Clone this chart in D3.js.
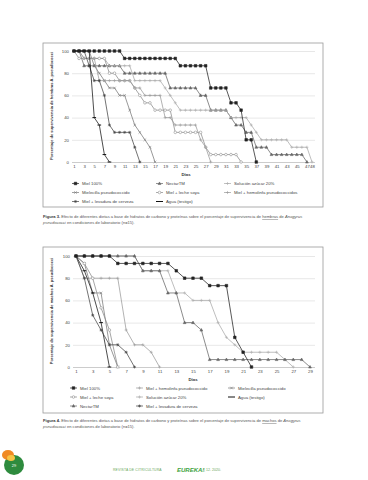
<!DOCTYPE html>
<html><head><meta charset="utf-8">
<script src="https://cdn.jsdelivr.net/npm/d3@7"></script>
<style>
html,body{margin:0;padding:0;background:#fff;}
svg{display:block;font-family:"Liberation Sans",Arial,sans-serif;}
</style></head><body>
<svg id="page" width="368" height="480"></svg>
<script>
// ---------- DATA ----------
const days1 = d3.range(1, 49);
const xTicks1 = [1,3,5,7,9,11,13,15,17,19,21,23,25,27,29,31,33,35,37,39,41,43,45,47,48];
const days2 = d3.range(1, 30);
const xTicks2 = [1,3,5,7,9,11,13,15,17,19,21,23,25,27,29];
const yTicks = [0,20,40,60,80,100];

// Figure 3 (hembras) - legend order (3 columns, row-major)
const names1 = ["Miel 100%","NectarTM","Solución azúcar 20%","Mielecilla pseudococcido","Miel + leche soya","Miel + hemolinfa pseudococcidos","Miel + levadura de cerveza","Agua (testigo)"];
const h_miel100 = [100,100,100,100,100,100,100,100,100,100,93.3,93.3,93.3,93.3,93.3,93.3,93.3,93.3,93.3,93.3,93.3,86.7,86.7,86.7,86.7,86.7,86.7,66.7,66.7,66.7,66.7,53.3,53.3,46.7,20,20,0];
const h_nectar = [100,100,86.7,86.7,86.7,86.7,86.7,86.7,86.7,86.7,80,80,80,80,80,80,80,80,80,66.7,66.7,66.7,66.7,66.7,66.7,60,60,46.7,46.7,46.7,46.7,40,33.3,33.3,26.7,26.7,13.3,13.3,13.3,6.7,6.7,6.7,6.7,6.7,6.7,6.7,0];
const h_azucar = [100,100,93.3,93.3,93.3,93.3,93.3,86.7,86.7,86.7,86.7,86.7,73.3,73.3,73.3,73.3,73.3,73.3,66.7,60,53.3,46.7,46.7,46.7,46.7,46.7,46.7,46.7,46.7,46.7,46.7,40,40,40,40,33.3,26.7,20,20,20,20,20,20,13.3,13.3,13.3,13.3,0];
const h_mielecilla = [100,100,100,100,86.7,80,73.3,66.7,66.7,60,60,46.7,33.3,26.7,20,13.3,0];
const h_soya = [100,93.3,93.3,93.3,93.3,93.3,93.3,80,80,73.3,73.3,73.3,66.7,60,53.3,53.3,46.7,46.7,46.7,46.7,26.7,26.7,26.7,26.7,26.7,26.7,13.3,6.7,6.7,6.7,6.7,6.7,6.7,0];
const h_hemolinfa = [100,100,93.3,93.3,93.3,73.3,73.3,73.3,73.3,73.3,73.3,73.3,66.7,66.7,60,60,60,60,40,40,33.3,33.3,33.3,33.3,33.3,20,13.3,0];
const h_levadura = [100,100,100,86.7,73.3,73.3,60,33.3,26.7,26.7,26.7,26.7,13.3,0];
const h_agua = [100,100,100,100,40,33.3,6.7,0];
const values1 = [h_miel100,h_nectar,h_azucar,h_mielecilla,h_soya,h_hemolinfa,h_levadura,h_agua];

// Figure 4 (machos) - legend order (3 columns, row-major)
const names2 = ["Miel 100%","Miel + hemolinfa pseudococcido","Mielecilla pseudococcido","Miel + leche soya","Solución azúcar 20%","Agua (testigo)","NectarTM","Miel + levadura de cerveza"];
const m_miel100 = [100,100,100,100,100,93.3,93.3,93.3,93.3,93.3,93.3,93.3,86.7,80,80,80,73.3,73.3,73.3,26.7,13.3,0];
const m_hemolinfa = [100,80,80,80,80,80,33.3,20,20,13.3,0];
const m_mielecilla = [100,93.3,66.7,66.7,20,0];
const m_soya = [100,93.3,80,53.3,33.3,0];
const m_azucar = [100,100,100,100,100,100,100,100,86.7,86.7,86.7,86.7,66.7,66.7,60,60,60,40,26.7,20,13.3,13.3,13.3,13.3,13.3,6.7,0];
const m_agua = [100,86.7,66.7,40,0];
const m_nectar = [100,100,100,100,100,100,100,100,86.7,86.7,86.7,66.7,66.7,40,40,33.3,6.7,6.7,6.7,6.7,6.7,6.7,6.7,6.7,6.7,6.7,6.7,6.7,0];
const m_levadura = [100,80,46.7,33.3,20,20,13.3,0];
const values2 = [m_miel100,m_hemolinfa,m_mielecilla,m_soya,m_azucar,m_agua,m_nectar,m_levadura];

// ---------- STYLES ----------
const styleOf = {
  "Miel 100%": {sym:"square", color:"#222", fill:"#222", front:true},
  "NectarTM": {sym:"triangle", color:"#666", fill:"#666"},
  "Solución azúcar 20%": {sym:"plus", color:"#a8a8a8"},
  "Mielecilla pseudococcido": {sym:"times", color:"#777"},
  "Miel + leche soya": {sym:"circle", color:"#888", fill:"#fff"},
  "Miel + hemolinfa pseudococcidos": {sym:"plus", color:"#999"},
  "Miel + hemolinfa pseudococcido": {sym:"plus", color:"#999"},
  "Miel + levadura de cerveza": {sym:"asterisk", color:"#444"},
  "Agua (testigo)": {sym:"dash", color:"#111"}
};

function markerPath(sym, s){
  switch(sym){
    case "square": return `M${-s},${-s}h${2*s}v${2*s}h${-2*s}Z`;
    case "triangle": return `M0,${-s*1.2}L${s*1.1},${s*0.8}L${-s*1.1},${s*0.8}Z`;
    case "circle": return `M${s},0A${s},${s} 0 1,1 ${-s},0A${s},${s} 0 1,1 ${s},0Z`;
    case "plus": return `M${-s*1.2},0H${s*1.2}M0,${-s*1.2}V${s*1.2}`;
    case "times": return `M${-s},${-s}L${s},${s}M${s},${-s}L${-s},${s}`;
    case "asterisk": return `M${-s*1.2},0H${s*1.2}M0,${-s*1.2}V${s*1.2}M${-s*0.85},${-s*0.85}L${s*0.85},${s*0.85}M${s*0.85},${-s*0.85}L${-s*0.85},${s*0.85}`;
    case "dash": return `M${-s*1.4},0H${s*1.4}`;
  }
}

const svg = d3.select("#page");
const FS = 4.3;
const MS = 1.3;

function drawChart(cfg){
  const g = svg.append("g");
  g.append("rect").attr("x",cfg.box[0]).attr("y",cfg.box[1]).attr("width",cfg.box[2]).attr("height",cfg.box[3])
    .attr("fill","#fff").attr("stroke","#9a9a9a").attr("stroke-width",0.8);
  const x = d3.scaleLinear().domain([cfg.days[0], cfg.days[cfg.days.length-1]]).range(cfg.xr);
  const y = d3.scaleLinear().domain([0,100]).range(cfg.yr);
  // grid + y labels
  const ya = d3.axisLeft(y).tickValues(yTicks).tickSize(-(cfg.gridR-cfg.gridL)).tickPadding(3);
  const yg = g.append("g").attr("transform",`translate(${cfg.gridL},0)`).call(ya);
  yg.select(".domain").remove();
  yg.selectAll("line").attr("stroke",d=>d===0?"#aaa":"#d6d6d6").attr("stroke-width",0.6);
  yg.selectAll("text").attr("font-size",FS).attr("fill","#444").attr("font-family","Liberation Sans, Arial, sans-serif");
  // x labels
  const xa = d3.axisBottom(x).tickValues(cfg.xTicks).tickSize(0).tickPadding(3).tickFormat(d3.format("d"));
  const xg = g.append("g").attr("transform",`translate(0,${cfg.yr[0]})`).call(xa);
  xg.select(".domain").remove();
  xg.selectAll("text").attr("font-size",FS).attr("fill","#444").attr("font-family","Liberation Sans, Arial, sans-serif");
  // axis titles
  g.append("text").attr("x",cfg.diasX).attr("y",cfg.diasY).attr("text-anchor","middle")
    .attr("font-size",FS).attr("font-weight","bold").attr("fill","#333").text("Días");
  g.append("text").attr("transform",`translate(${cfg.ytX},${cfg.ytY}) rotate(-90)`).attr("text-anchor","middle")
    .attr("font-size",4).attr("font-weight","bold").attr("fill","#333").text(cfg.yTitle);
  // series
  const order = cfg.names.map((n,i)=>i).sort((a,b)=>{
    const sa=styleOf[cfg.names[a]], sb=styleOf[cfg.names[b]];
    return (sa.front?1:0)-(sb.front?1:0);
  });
  const line = d3.line().x(d=>x(d[0])).y(d=>y(d[1]));
  order.forEach(i=>{
    const st = styleOf[cfg.names[i]];
    const pts = cfg.values[i].map((v,j)=>[cfg.days[j], v]);
    g.append("path").attr("d",line(pts)).attr("fill","none").attr("stroke",st.color).attr("stroke-width",0.75);
    g.selectAll(null).data(pts).enter().append("path")
      .attr("transform",d=>`translate(${x(d[0])},${y(d[1])})`)
      .attr("d",markerPath(st.sym,MS))
      .attr("fill",st.fill||"none").attr("stroke",st.color)
      .attr("stroke-width",st.sym==="dash"?1:0.55);
  });
  // legend
  cfg.names.forEach((n,i)=>{
    const st = styleOf[n];
    const col = i%3, row = Math.floor(i/3);
    const lx = cfg.legCols[col], ly = cfg.legRows[row];
    g.append("line").attr("x1",lx).attr("x2",lx+7).attr("y1",ly).attr("y2",ly)
      .attr("stroke",st.color).attr("stroke-width",st.sym==="dash"?1:0.7);
    if(st.sym!=="dash"){
      g.append("path").attr("transform",`translate(${lx+3.5},${ly})`).attr("d",markerPath(st.sym,MS))
        .attr("fill",st.fill||"none").attr("stroke",st.color).attr("stroke-width",0.55);
    }
    g.append("text").attr("x",lx+10).attr("y",ly+1.5).attr("font-size",FS).attr("fill","#444").text(n);
  });
  // caption
  const c1 = g.append("text").attr("x",43).attr("y",cfg.capY).attr("font-size",4.1).attr("fill","#555");
  c1.append("tspan").attr("font-weight","bold").attr("fill","#333").text(cfg.capLabel+" ");
  c1.append("tspan").text("Efecto de diferentes dietas a base de hidratos de carbono y proteínas sobre el porcentaje de supervivencia de ");
  c1.append("tspan").attr("text-decoration","underline").text(cfg.capSex);
  c1.append("tspan").text(" de ");
  c1.append("tspan").attr("font-style","italic").text("Anagyrus");
  const c2 = g.append("text").attr("x",43).attr("y",cfg.capY+6).attr("font-size",4.1).attr("fill","#555");
  c2.append("tspan").attr("font-style","italic").text("pseudococci");
  c2.append("tspan").text(" en condiciones de laboratorio (n=15).");
}

drawChart({
  box:[43,43,280,164], days:days1, xTicks:xTicks1, xr:[74,312], yr:[162,51], gridL:72, gridR:315,
  diasX:186, diasY:176, ytX:53, ytY:106, yTitle:"Porcentaje de supervivencia de hembras A. pseudococci",
  names:names1, values:values1, legCols:[72,156,224], legRows:[183.5,192.5,201.5],
  capY:218, capLabel:"Figura 3.", capSex:"hembras"
});
drawChart({
  box:[43,247,280,166], days:days2, xTicks:xTicks2, xr:[76,310], yr:[367,256], gridL:73, gridR:315,
  diasX:193, diasY:381, ytX:53, ytY:311, yTitle:"Porcentaje de supervivencia de machos A. pseudococci",
  names:names2, values:values2, legCols:[70,136,228], legRows:[388,397,406],
  capY:422, capLabel:"Figura 4.", capSex:"machos"
});

// ---------- FOOTER ----------
const f = svg.append("g");
f.append("circle").attr("cx",14).attr("cy",465).attr("r",10).attr("fill","#2e8b3e");
f.append("ellipse").attr("cx",8).attr("cy",455).attr("rx",6).attr("ry",5).attr("fill","#f08a24");
f.append("ellipse").attr("cx",11).attr("cy",458).attr("rx",4).attr("ry",3).attr("fill","#f6c445");
f.append("text").attr("x",14).attr("y",467).attr("text-anchor","middle").attr("font-size",4).attr("fill","#fff").text("29");
f.append("text").attr("x",113).attr("y",470.5).attr("font-size",3.4).attr("letter-spacing",0.15).attr("fill","#6aa85a").text("REVISTA DE CITRICULTURA");
f.append("text").attr("x",177).attr("y",471.5).attr("font-size",6).attr("font-weight","bold").attr("font-style","italic").attr("fill","#3ea23e").text("EUREKA!");
f.append("text").attr("x",204).attr("y",470.5).attr("font-size",3.6).attr("fill","#6aa85a").text("| 12. 2020.");
</script></body></html>
